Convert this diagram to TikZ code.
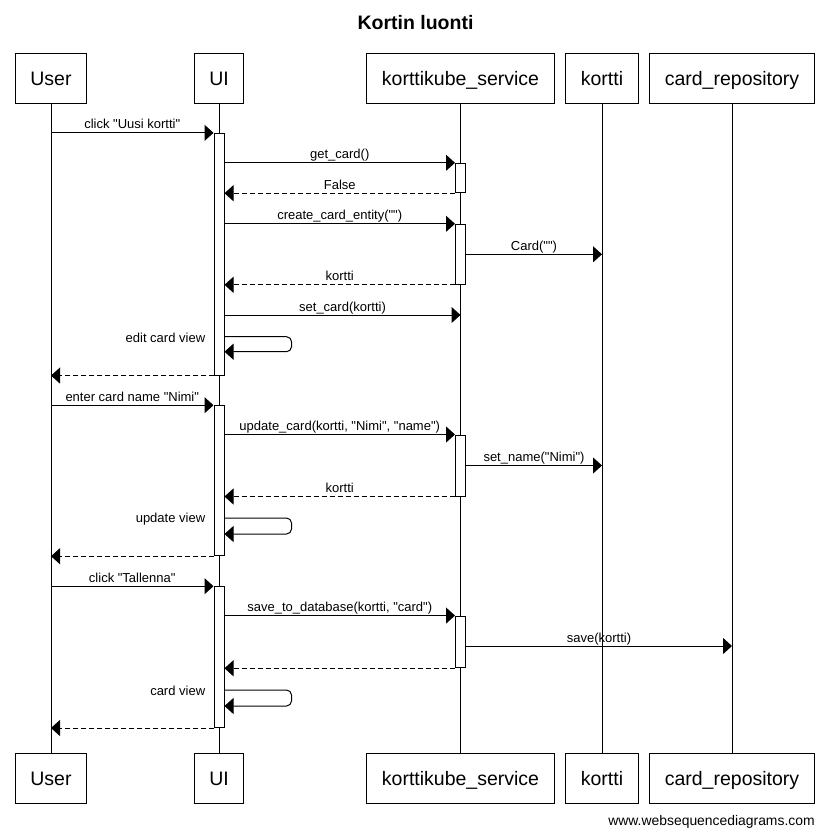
\documentclass[tikz,border=0pt]{standalone}
\usepackage{fontspec}
\setmainfont{Liberation Sans}[Ligatures=TeXOff]
\usetikzlibrary{arrows.meta}

\begin{document}
\begin{tikzpicture}[x=1pt, y=-1pt, line width=1pt,
	obj/.style={draw, minimum height=50pt, inner xsep=15pt, text height=14pt, text depth=0pt, font=\fontsize{19.5}{22}\selectfont},
	act/.style={draw, fill=white, minimum width=10pt, inner sep=0pt},
	msg/.style={-{Triangle[length=9pt,width=16pt]}},
	ret/.style={msg, dash pattern=on 5pt off 3pt},
	lbl/.style={above, text depth=0pt, inner ysep=3.5pt, font=\fontsize{13}{15}\selectfont},
	note/.style={anchor=east, font=\fontsize{13}{15}\selectfont}]
						\useasboundingbox (0, 0) rectangle (831, 838);
						\node[font=\bfseries\fontsize{19.5}{22}\selectfont] (title) at (415.5, 23) {Kortin luonti};
						\node[obj] (user) at (51, 78) {User};
						\node[obj] (ui) at (219, 78) {UI};
						\node[obj] (service) at (460.5, 78) {korttikube\_service};
						\node[obj] (kortti) at (602, 78) {kortti};
						\node[obj] (repo) at (732, 78) {card\_repository};
						\node[obj] (userB) at (51, 778.5) {User};
						\node[obj] (uiB) at (219, 778.5) {UI};
						\node[obj] (serviceB) at (460.5, 778.5) {korttikube\_service};
						\node[obj] (korttiB) at (602, 778.5) {kortti};
						\node[obj] (repoB) at (732, 778.5) {card\_repository};
						\draw (user) -- (userB);
						\draw (ui) -- (uiB);
						\draw (service) -- (serviceB);
						\draw (kortti) -- (korttiB);
						\draw (repo) -- (repoB);
						\node[act, minimum height=241.7pt] (ui1) at (219, 254.2) {};
						\node[act, minimum height=150pt] (ui2) at (219, 480.7) {};
						\node[act, minimum height=140.8pt] (ui3) at (219, 657.1) {};
						\node[act, minimum height=29.4pt] (s1) at (460.5, 178) {};
						\node[act, minimum height=60pt] (s2) at (460.5, 254.3) {};
						\node[act, minimum height=61pt] (s3) at (460.5, 465.5) {};
						\node[act, minimum height=51.7pt] (s4) at (460.5, 641.9) {};
						\draw[msg] (user |- ui1.north) to node[lbl] {click "Uusi kortti"} (ui1.north west);
						\draw[msg] (ui1.east |- s1.north) to node[lbl] {get\_card()} (s1.north west);
						\draw[ret] (s1.south west) to node[lbl] {False} (ui1.east |- s1.south);
						\draw[msg] (ui1.east |- s2.north) to node[lbl] {create\_card\_entity("")} (s2.north west);
						\draw[msg] (s2.east) to node[lbl] {Card("")} (kortti |- s2.east);
						\draw[ret] (s2.south west) to node[lbl] {kortti} (ui1.east |- s2.south);
						\draw[msg] (ui1.east |- 0, 315) to node[lbl] {set\_card(kortti)} (service |- 0, 315);
						\draw[msg, rounded corners=5pt] (ui1.east |- 0, 336.7) -- ++(67, 0) -- ++(0, 15) -- (ui1.east |- 0, 351.7);
						\node[note] (edit) at (209, 338) {edit card view};
						\draw[ret] (ui1.south west) -- (user |- ui1.south);
						\draw[msg] (user |- ui2.north) to node[lbl] {enter card name "Nimi"} (ui2.north west);
						\draw[msg] (ui2.east |- s3.north) to node[lbl] {update\_card(kortti, "Nimi", "name")} (s3.north west);
						\draw[msg] (s3.east) to node[lbl] {set\_name("Nimi")} (kortti |- s3.east);
						\draw[ret] (s3.south west) to node[lbl] {kortti} (ui2.east |- s3.south);
						\draw[msg, rounded corners=5pt] (ui2.east |- 0, 518) -- ++(67, 0) -- ++(0, 16) -- (ui2.east |- 0, 534);
						\node[note] (upd) at (209, 519) {update view};
						\draw[ret] (ui2.south west) -- (user |- ui2.south);
						\draw[msg] (user |- ui3.north) to node[lbl] {click "Tallenna"} (ui3.north west);
						\draw[msg] (ui3.east |- s4.north) to node[lbl] {save\_to\_database(kortti, "card")} (s4.north west);
						\draw[msg] (s4.east |- 0, 646) to node[lbl] {save(kortti)} (repo |- 0, 646);
						\draw[ret] (s4.south west) -- (ui3.east |- s4.south);
						\draw[msg, rounded corners=5pt] (ui3.east |- 0, 690) -- ++(67, 0) -- ++(0, 16) -- (ui3.east |- 0, 706);
						\node[note] (cview) at (209, 691) {card view};
						\draw[ret] (ui3.south west) -- (user |- ui3.south);
						\node[anchor=east, font=\fontsize{13.9}{16}\selectfont] (wsd) at (818.5, 821.7) {www.websequencediagrams.com};
					\end{tikzpicture}
\end{document}
